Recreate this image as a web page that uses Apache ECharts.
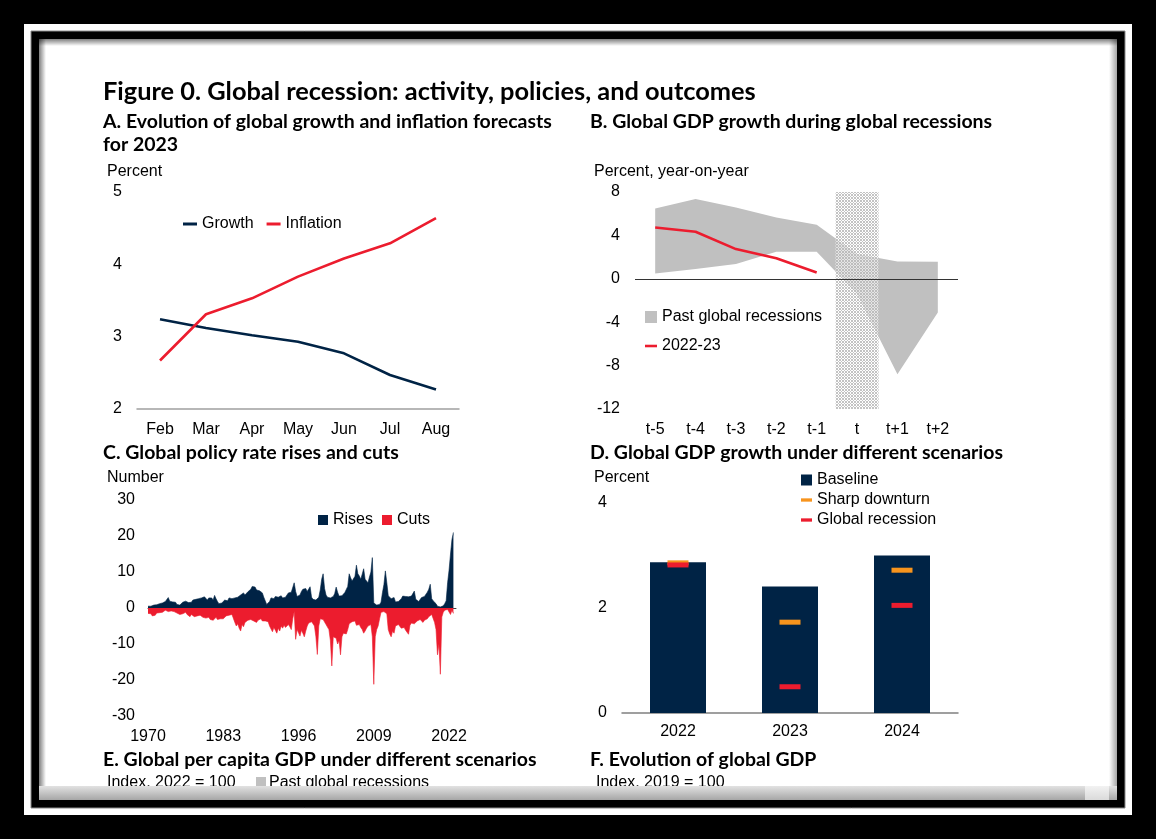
<!DOCTYPE html>
<html><head><meta charset="utf-8">
<script src="https://cdn.jsdelivr.net/npm/echarts@6/dist/echarts.min.js"></script>
<style>html,body{margin:0;padding:0;background:#000;}#c{width:1156px;height:839px;}</style>
</head><body><div id="c"></div>
<script>
// ---------- DATA ----------
const monthsA = ['Feb','Mar','Apr','May','Jun','Jul','Aug'];
const growthA = [3.24,3.12,3.02,2.93,2.77,2.47,2.27];
const inflationA = [2.67,3.31,3.53,3.83,4.08,4.29,4.64];

const periodsB = ['t-5','t-4','t-3','t-2','t-1','t','t+1','t+2'];
const pastLowB  = [0.5,0.9,1.36,2.5,2.5,-1.41,-8.79,-3.1];
const pastHighB = [6.48,7.35,6.57,5.65,4.98,2.28,1.6,1.57];
const recentB   = [4.73,4.33,2.74,1.9,0.58,null,null,null];
const recessionPeriodB = 't';

// Panel C: quarterly, starting 1970Q1 (4 values per year)
const cStartYear = 1970;
const risesC = [
0.5,0.6,0.5,0.7, 0.8,0.6,0.9,1.0, 1.2,1.0,1.4,1.5, 1.8,2.2,2.9,1.9, 2.0,1.7,2.1,1.6,
1.0,0.5,0.8,1.2, 1.6,1.4,1.9,1.7, 1.5,2.0,1.6,2.2, 1.8,2.4,2.0,2.6, 2.2,2.8,2.4,3.1,
2.6,2.2,2.8,2.4, 2.8,2.2,3.5,2.6, 1.8,1.2,0.9,1.4, 1.2,2.2,2.6,2.0, 2.8,3.3,2.6,2.4,
2.8,2.6,3.0,3.4, 3.6,3.8,4.2,3.6, 4.0,4.5,4.2,5.2, 6.0,5.6,5.8,5.0, 5.2,4.8,5.0,4.2,
3.0,3.4,1.0,0.9, 1.8,2.8,3.0,2.6, 3.2,2.8,3.0,2.6, 3.4,2.8,3.2,3.0, 3.6,4.2,3.8,4.4,
4.0,7.0,4.6,3.2, 2.9,3.6,4.6,5.2, 4.8,5.4,4.6,5.0, 5.9,3.0,2.4,2.8, 2.2,2.6,3.0,5.0,
8.0,9.5,5.4,3.6, 3.0,3.2,2.8,3.0, 3.2,4.0,5.8,4.4, 3.3,3.2,3.4,3.0, 4.3,4.0,6.0,9.5,
8.4,7.5,7.6,8.8, 11.9,9.5,8.9,8.0, 9.4,10.9,8.0,7.5, 7.0,8.6,10.0,14.0, 1.4,1.0,0.8,1.2,
1.0,1.6,4.3,6.5, 10.3,7.0,3.4,2.9, 2.6,2.4,2.9,1.7, 1.6,1.8,1.7,2.6, 3.3,2.8,3.2,3.3,
3.1,2.8,3.3,3.6, 4.7,2.4,2.0,1.8, 2.2,2.9,2.6,3.2, 3.0,4.4,5.2,6.6, 2.6,2.0,1.6,1.2,
0.5,0.3,0.3,0.4, 0.6,1.2,2.0,7.0, 10.5,15.0,19.0,21.0
];
const cutsC = [
-1.5,-2.0,-1.6,-2.2, -1.8,-2.0,-1.4,-1.6, -1.3,-1.8,-1.2,-0.9, -0.6,-0.8,-1.0,-0.6, -0.8,-0.5,-1.0,-0.8,
-1.4,-1.6,-1.8,-1.4, -1.6,-1.5,-1.2,-1.8, -2.0,-2.4,-1.8,-2.2, -2.4,-2.0,-2.2,-2.6, -2.0,-2.4,-2.6,-2.2,
-2.8,-3.0,-2.6,-3.2, -2.8,-3.4,-3.0,-2.6, -3.2,-3.6,-3.0,-3.4, -3.0,-2.6,-2.2,-1.8, -2.0,-2.4,-1.8,-2.2,
-4.0,-5.0,-4.4,-5.6, -6.4,-4.6,-5.2,-4.0, -4.4,-3.4,-3.8,-3.2, -3.0,-3.6,-3.2,-4.0, -3.4,-3.8,-3.0,-3.6,
-3.4,-3.6,-3.2,-3.8, -5.0,-5.8,-6.6,-5.4, -6.2,-7.0,-5.6,-6.4, -5.0,-5.6,-4.8,-5.4, -5.0,-4.6,-5.2,-6.0,
-3.0,-1.0,-8.7,-6.0, -6.5,-7.8,-6.2,-7.0, -8.0,-6.4,-5.0,-4.2, -4.0,-3.8,-4.4,-5.0, -8.0,-12.9,-5.0,-3.0,
-2.8,-3.2,-3.0,-4.6, -5.0,-6.0,-9.0,-16.1, -8.0,-7.6,-8.4,-10.0, -9.0,-13.0,-8.0,-7.0, -6.6,-7.2,-6.0,-4.4,
-4.0,-3.8,-4.2,-3.6, -4.8,-5.0,-4.6,-5.4, -6.0,-7.0,-6.4,-5.6, -5.0,-5.2,-4.6,-8.0, -21.2,-8.0,-6.0,-5.0,
-3.0,-1.2,-0.8,-1.0, -1.0,-1.6,-6.0,-7.2, -8.0,-6.4,-7.0,-5.0, -5.4,-4.6,-5.0,-5.6, -6.0,-5.4,-6.2,-5.8,
-7.3,-4.8,-4.2,-3.8, -4.4,-4.0,-3.6,-3.4, -3.2,-3.6,-4.0,-3.4, -3.8,-3.0,-2.4,-2.0, -1.8,-2.2,-4.0,-6.0,
-13.0,-10.0,-18.4,-2.5, -1.2,-0.6,-0.5,-0.4, -0.5,-1.8,-0.6,-1.5
];
const yearLabelsC = [1970,1983,1996,2009,2022];

const yearsD = ['2022','2023','2024'];
const baselineD  = [2.87,2.41,3.0];
const sharpD     = [2.86,1.73,2.72];
const recessionD = [2.82,0.5,2.05];

// ---------- STYLE ----------
const NAVY='#002345', RED='#ec1c2e', ORANGE='#f7941d', GRAY='#c0c0c0';
const SANS='Liberation Sans, Arial, sans-serif';
const TITLEF='Lato, sans-serif';
const AX={fontFamily:SANS,fontSize:16,color:'#000'};
const LINE_ICON='path://M0 0H14V3H0Z';
const SQ_ICON='path://M0 0H10V10H0Z';

function fitSize(text, weight, family, target){
  const c=document.createElement('canvas').getContext('2d');
  c.font=weight+' 100px '+family;
  return 100*target/c.measureText(text).width;
}
const mainTitle='Figure 0. Global recession: activity, policies, and outcomes';
const titleA='A. Evolution of global growth and inflation forecasts';
const mainSize=fitSize(mainTitle,'bold',TITLEF,653);
const panelSize=fitSize(titleA,'bold',TITLEF,449);

function hatch(){
  const c=document.createElement('canvas'); c.width=3; c.height=3;
  const g=c.getContext('2d');
  g.fillStyle='rgba(255,255,255,0.6)'; g.fillRect(0,0,3,3);
  g.fillStyle='rgba(175,175,175,0.75)';
  [[0,0],[2,0],[1,1],[0,2],[2,2]].forEach(p=>g.fillRect(p[0],p[1],1,1));
  return c;
}

const LG=echarts.graphic.LinearGradient;
function txt(x,y,text,font,z){
  return {type:'text',x:x,y:y,z:z||10,silent:true,
    style:{text:text,font:font,fill:'#000',textAlign:'left',textVerticalAlign:'middle'}};
}
const bf=s=>'bold '+s.toFixed(2)+'px '+TITLEF;
const nf='16px '+SANS;

const graphics=[
  {type:'rect',z:-10,shape:{x:24,y:24,width:1108,height:791},style:{fill:'#fff'}},
  {type:'rect',z:-9,shape:{x:31,y:31,width:1094,height:777},style:{fill:'#000',stroke:'#8a8a8a',lineWidth:1}},
  {type:'rect',z:-8,shape:{x:39,y:39,width:1078,height:761},style:{fill:'#fff'}},
  {type:'rect',z:-7,shape:{x:39,y:39,width:1078,height:7},style:{fill:new LG(0,0,0,1,[{offset:0,color:'rgba(0,0,0,0.5)'},{offset:1,color:'rgba(0,0,0,0)'}])}},
  {type:'rect',z:-7,shape:{x:39,y:39,width:7,height:761},style:{fill:new LG(0,0,1,0,[{offset:0,color:'rgba(0,0,0,0.5)'},{offset:1,color:'rgba(0,0,0,0)'}])}},
  {type:'rect',z:-7,shape:{x:1109,y:39,width:8,height:761},style:{fill:new LG(0,0,1,0,[{offset:0,color:'rgba(0,0,0,0)'},{offset:1,color:'rgba(0,0,0,0.35)'}])}},
  txt(103,91.5,mainTitle,bf(mainSize)),
  txt(103,122,titleA,bf(panelSize)),
  txt(103,145,'for 2023',bf(panelSize)),
  txt(590,122,'B. Global GDP growth during global recessions',bf(panelSize)),
  txt(103,453,'C. Global policy rate rises and cuts',bf(panelSize)),
  txt(590,453,'D. Global GDP growth under different scenarios',bf(panelSize)),
  txt(103,760,'E. Global per capita GDP under different scenarios',bf(panelSize)),
  txt(590,760,'F. Evolution of global GDP',bf(panelSize)),
  txt(107,171.5,'Percent',nf),
  txt(594,171.5,'Percent, year-on-year',nf),
  txt(107,477.5,'Number',nf),
  txt(594,477.5,'Percent',nf),
  txt(107,783,'Index, 2022 = 100',nf),
  {type:'rect',z:10,shape:{x:256,y:777,width:10,height:10},style:{fill:GRAY}},
  txt(269,783,'Past global recessions',nf),
  txt(596,783,'Index, 2019 = 100',nf),
  {type:'rect',z:50,shape:{x:39,y:786,width:1078,height:14},style:{fill:new LG(0,0,0,1,[{offset:0,color:'#e2e2e2'},{offset:1,color:'#a6a6a6'}])}},
  {type:'rect',z:51,shape:{x:1085,y:786,width:24,height:14},style:{fill:new LG(0,0,0,1,[{offset:0,color:'#f2f2f2'},{offset:1,color:'#dadada'}])}}
];

const band=pastHighB.map((v,i)=>v-pastLowB[i]);
const yMaxB=8, yMinB=-12;
const hatchTop=periodsB.map(p=>p===recessionPeriodB?yMaxB:null);
const hatchBot=periodsB.map(p=>p===recessionPeriodB?yMinB:null);
const risesPts=risesC.map((v,i)=>[i/4,v]);
const cutsPts=cutsC.map((v,i)=>[i/4,v]);
const tickC=yearLabelsC.map(y=>y-cStartYear);

const LEG={padding:0,selectedMode:false,textStyle:AX};
const option={
  backgroundColor:'#000',
  animation:false,
  graphic:{elements:graphics},
  grid:[
    {left:137,top:192,width:322,height:217},
    {left:635,top:192,width:323,height:217},
    {left:148,top:500,width:308,height:216},
    {left:622,top:503,width:336,height:210}
  ],
  legend:[
    Object.assign({left:183,top:216,itemWidth:14,itemHeight:12,itemGap:13,
      data:[{name:'Growth',icon:LINE_ICON},{name:'Inflation',icon:LINE_ICON}]},LEG),
    Object.assign({orient:'vertical',left:645,top:309,itemWidth:12,itemHeight:12,itemGap:13,
      data:[{name:'Past global recessions',icon:SQ_ICON},{name:'2022-23',icon:LINE_ICON}]},LEG),
    Object.assign({left:318,top:512,itemWidth:10,itemHeight:12,itemGap:9,
      data:[{name:'Rises',icon:SQ_ICON},{name:'Cuts',icon:SQ_ICON}]},LEG),
    Object.assign({orient:'vertical',left:801,top:472,itemWidth:11,itemHeight:12,itemGap:4,
      data:[{name:'Baseline',icon:SQ_ICON},{name:'Sharp downturn',icon:'path://M0 0H10V3H0Z'},{name:'Global recession',icon:'path://M0 0H10V3H0Z'}]},LEG)
  ],
  xAxis:[
    {gridIndex:0,type:'category',data:monthsA,axisLine:{lineStyle:{color:'#a0a0a0',width:1.5}},axisTick:{show:false},axisLabel:Object.assign({margin:13},AX)},
    {gridIndex:1,type:'category',data:periodsB,axisLine:{show:false},axisTick:{show:false},axisLabel:Object.assign({margin:13},AX)},
    {gridIndex:2,type:'value',min:0,max:53.2,position:'bottom',axisLine:{onZero:true,lineStyle:{color:'#404040'}},
      axisTick:{show:true,length:4,customValues:tickC,lineStyle:{color:'#404040'}},axisLabel:{show:false},splitLine:{show:false}},
    {gridIndex:2,type:'value',min:0,max:53.2,position:'bottom',axisLine:{show:false,onZero:false},axisTick:{show:false},splitLine:{show:false},
      axisLabel:Object.assign({margin:13,customValues:tickC,formatter:v=>String(Math.round(v)+cStartYear)},AX)},
    {gridIndex:3,type:'category',data:yearsD,axisLine:{lineStyle:{color:'#808080',width:1.5}},axisTick:{show:false},axisLabel:Object.assign({margin:11},AX)}
  ],
  yAxis:[
    {gridIndex:0,type:'value',min:2,max:5,interval:1,axisLine:{show:false},axisTick:{show:false},splitLine:{show:false},axisLabel:Object.assign({margin:15},AX)},
    {gridIndex:1,type:'value',min:yMinB,max:yMaxB,interval:4,axisLine:{show:false},axisTick:{show:false},splitLine:{show:false},axisLabel:Object.assign({margin:15},AX)},
    {gridIndex:2,type:'value',min:-30,max:30,interval:10,axisLine:{show:false},axisTick:{show:false},splitLine:{show:false},axisLabel:Object.assign({margin:13},AX)},
    {gridIndex:3,type:'value',min:0,max:4,interval:2,axisLine:{show:false},axisTick:{show:false},splitLine:{show:false},axisLabel:Object.assign({margin:15},AX)}
  ],
  series:[
    {name:'Growth',type:'line',xAxisIndex:0,yAxisIndex:0,data:growthA,symbol:'none',itemStyle:{color:NAVY},lineStyle:{color:NAVY,width:2.6},z:4},
    {name:'Inflation',type:'line',xAxisIndex:0,yAxisIndex:0,data:inflationA,symbol:'none',itemStyle:{color:RED},lineStyle:{color:RED,width:2.6},z:4},

    {name:'bandLow',type:'line',xAxisIndex:1,yAxisIndex:1,data:pastLowB,stack:'band',stackStrategy:'all',symbol:'none',lineStyle:{opacity:0},silent:true,z:2},
    {name:'Past global recessions',type:'line',xAxisIndex:1,yAxisIndex:1,data:band,stack:'band',stackStrategy:'all',symbol:'none',
      itemStyle:{color:GRAY},lineStyle:{width:0},areaStyle:{color:GRAY,opacity:1},silent:true,z:2},
    {name:'hatchTop',type:'bar',xAxisIndex:1,yAxisIndex:1,data:hatchTop,stack:'hatch',barWidth:43,silent:true,
      itemStyle:{color:{image:hatch(),repeat:'repeat'}},z:3},
    {name:'hatchBot',type:'bar',xAxisIndex:1,yAxisIndex:1,data:hatchBot,stack:'hatch',barWidth:43,silent:true,
      itemStyle:{color:{image:hatch(),repeat:'repeat'}},z:3},
    {name:'2022-23',type:'line',xAxisIndex:1,yAxisIndex:1,data:recentB,symbol:'none',itemStyle:{color:RED},lineStyle:{color:RED,width:2.6},z:5,
      markLine:{silent:true,symbol:'none',label:{show:false},lineStyle:{color:'#333',width:1,type:'solid'},data:[{yAxis:0}]}},

    {name:'Rises',type:'line',xAxisIndex:2,yAxisIndex:2,data:risesPts,symbol:'none',itemStyle:{color:NAVY},lineStyle:{color:NAVY,width:0.6},areaStyle:{color:NAVY,opacity:1},z:3},
    {name:'Cuts',type:'line',xAxisIndex:2,yAxisIndex:2,data:cutsPts,symbol:'none',itemStyle:{color:RED},lineStyle:{color:RED,width:0.6},areaStyle:{color:RED,opacity:1},z:3},

    {name:'Baseline',type:'bar',xAxisIndex:4,yAxisIndex:3,data:baselineD,barWidth:56,itemStyle:{color:NAVY},z:2},
    {name:'Sharp downturn',type:'scatter',xAxisIndex:4,yAxisIndex:3,data:sharpD,symbol:'rect',symbolSize:[21,5],itemStyle:{color:ORANGE,opacity:1},z:4},
    {name:'Global recession',type:'scatter',xAxisIndex:4,yAxisIndex:3,data:recessionD,symbol:'rect',symbolSize:[21,5],itemStyle:{color:RED,opacity:1},z:5}
  ]
};
const chart=echarts.init(document.getElementById('c'));
chart.setOption(option);
</script>
</body></html>
